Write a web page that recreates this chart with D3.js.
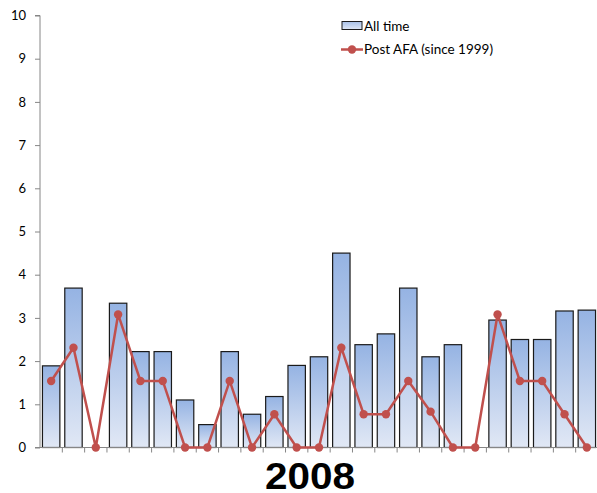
<!DOCTYPE html>
<html><head><meta charset="utf-8">
<script src="https://cdn.jsdelivr.net/npm/d3@7"></script>
<style>body{margin:0;background:#fff}svg{display:block}</style>
</head><body>
<svg id="c" width="597" height="493"></svg>
<script>
const categories = d3.range(1, 26).map(String);
const allTime = [1.89,3.69,0,3.34,2.22,2.22,1.1,0.53,2.22,0.77,1.18,1.9,2.1,4.5,2.38,2.63,3.69,2.1,2.38,0,2.95,2.5,2.5,3.16,3.18];
const postAFA = [1.54,2.31,0,3.08,1.54,1.54,0,0,1.54,0,0.77,0,0,2.31,0.77,0.77,1.54,0.83,0,0,3.08,1.54,1.54,0.77,0];
const yTicks = [0,1,2,3,4,5,6,7,8,9,10];
const seriesNames = ["All time", "Post AFA (since 1999)"];
const xTitle = "2008";

const svg = d3.select("#c");
const pL = 40, pR = 598, pT = 15.5, pB = 447.5;
const x = d3.scaleBand().domain(categories).range([pL, pR]).paddingInner(0.22).paddingOuter(0.11);
const xb = d3.scaleBand().domain(categories).range([pL, pR]);
const y = d3.scaleLinear().domain([0, 10]).range([pB, pT]);

const defs = svg.append("defs");
const g = defs.append("linearGradient").attr("id","bg").attr("x1",0).attr("y1",0).attr("x2",0).attr("y2",1);
g.append("stop").attr("offset","0%").attr("stop-color","#95b3e3");
g.append("stop").attr("offset","100%").attr("stop-color","#e1e8f5");
const gl = defs.append("linearGradient").attr("id","lg").attr("x1",0).attr("y1",0).attr("x2",0).attr("y2",1);
gl.append("stop").attr("offset","0%").attr("stop-color","#a8c0e8");
gl.append("stop").attr("offset","100%").attr("stop-color","#dfe7f5");

const barData = allTime.map((v, i) => ({cat: categories[i], v})).filter(d => d.v > 0);
svg.append("g").selectAll("rect").data(barData).join("rect")
  .attr("x", d => x(d.cat))
  .attr("y", d => y(d.v))
  .attr("width", x.bandwidth())
  .attr("height", d => pB - y(d.v))
  .attr("fill", "url(#bg)")
  .attr("stroke", "#1a1a1a").attr("stroke-width", 1.2);

// y axis
const ya = svg.append("g").attr("transform", `translate(${pL},0)`)
  .call(d3.axisLeft(y).tickValues(yTicks).tickSize(5).tickPadding(9).tickFormat(d3.format("d")));
ya.select(".domain").attr("stroke", "#868686").attr("d", `M-5,${pB}H0V${pT}H-5`);
ya.selectAll(".tick line").attr("stroke", "#868686");
ya.selectAll("text").attr("font-family", "Lato, 'Open Sans', sans-serif").attr("font-size", 13).attr("fill", "#000");

// x axis
const xa = svg.append("g").attr("transform", `translate(0,${pB})`);
xa.append("line").attr("x1", pL).attr("x2", pR).attr("stroke", "#868686");
xa.selectAll(".t").data(categories).join("line")
  .attr("x1", d => xb(d) + xb.bandwidth()).attr("x2", d => xb(d) + xb.bandwidth())
  .attr("y1", 0).attr("y2", 5).attr("stroke", "#868686");

// line
const cx = (d, i) => x(categories[i]) + x.bandwidth() / 2;
const lineGen = d3.line().x(cx).y(d => y(d));
svg.append("path").datum(postAFA).attr("d", lineGen).attr("fill","none")
  .attr("stroke", "#c0504d").attr("stroke-width", 2.5);
svg.append("g").selectAll("circle").data(postAFA).join("circle")
  .attr("cx", cx).attr("cy", d => y(d))
  .attr("r", 4.2).attr("fill", "#c0504d");

// legend
const lg = svg.append("g");
lg.append("rect").attr("x", 342).attr("y", 21.5).attr("width", 20).attr("height", 8)
  .attr("fill", "url(#lg)").attr("stroke", "#1a1a1a").attr("stroke-width", 1);
lg.append("text").attr("x", 364).attr("y", 30.5).text(seriesNames[0]);
lg.append("line").attr("x1", 341).attr("x2", 363).attr("y1", 49.5).attr("y2", 49.5)
  .attr("stroke", "#c0504d").attr("stroke-width", 2.5);
lg.append("circle").attr("cx", 352).attr("cy", 49.5).attr("r", 4.2).attr("fill", "#c0504d");
lg.append("text").attr("x", 364).attr("y", 54).text(seriesNames[1]);
lg.selectAll("text").attr("font-family", "Lato, 'Open Sans', sans-serif").attr("font-size", 13.5).attr("fill", "#000");

svg.append("text").attr("x", 310).attr("y", 488.5).attr("text-anchor", "middle")
  .attr("font-family", "'Liberation Sans', Arial, sans-serif").attr("font-weight", "bold")
  .attr("font-size", 36).attr("textLength", 90).attr("lengthAdjust", "spacingAndGlyphs")
  .attr("fill", "#000").text(xTitle);
</script>
</body></html>
